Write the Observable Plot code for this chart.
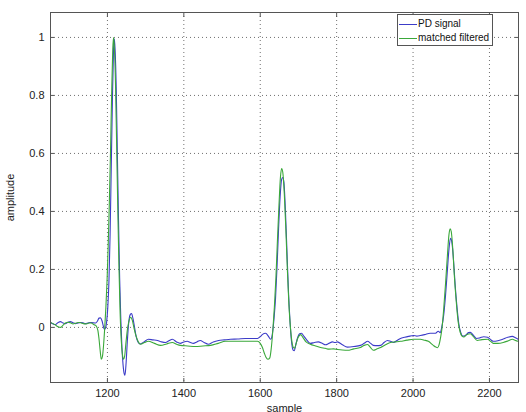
<!DOCTYPE html>
<html><head><meta charset="utf-8">
<script src="https://cdn.jsdelivr.net/npm/d3@7"></script>
<script src="https://cdn.jsdelivr.net/npm/@observablehq/plot@0.6"></script>
<style>
body{margin:0;background:#fff;}
#wrap{position:relative;width:526px;height:412px;font-family:"Liberation Sans",Arial,sans-serif;}
#legend{position:absolute;left:397px;top:14px;width:96px;height:32px;border:1px solid #555;background:#fff;font-size:10px;box-sizing:border-box;color:#111;}
#legend .row{position:absolute;left:1px;height:14px;line-height:14px;white-space:nowrap;}
#legend .sw{display:inline-block;width:18px;height:0;border-top:1px solid;vertical-align:middle;margin-right:1px;}
</style>
</head><body>
<div id="wrap"></div>
<script>
const xTicks = [1200, 1400, 1600, 1800, 2000, 2200];
const yTicks = [0, 0.2, 0.4, 0.6, 0.8, 1];
const seriesNames = ["PD signal", "matched filtered"];
const seriesColors = ["#3c3cc8", "#3aa83a"];

const sampleBlue = [1051,1058,1064,1071,1077,1084,1090,1097,1103,1110,1116,1123,1129,1136,1142,1149,1155,1162,1169,1174,1178,1182,1186,1189,1192,1195,1198,1201,1204,1207,1210,1213,1216,1218,1220,1223,1226,1229,1232,1235,1238,1241,1244,1246,1249,1252,1256,1260,1263,1267,1271,1275,1280,1286,1296,1307,1319,1331,1342,1352,1361,1370,1381,1391,1400,1409,1417,1425,1434,1443,1453,1464,1477,1491,1506,1522,1541,1561,1577,1593,1600,1606,1614,1622,1627,1630,1633,1636,1640,1644,1648,1652,1656,1659,1662,1666,1670,1674,1678,1682,1686,1689,1693,1698,1703,1708,1714,1721,1731,1742,1752,1762,1771,1780,1789,1796,1802,1815,1828,1845,1862,1872,1881,1889,1896,1906,1915,1924,1933,1941,1949,1958,1967,1978,1988,2001,2010,2019,2030,2045,2059,2066,2071,2075,2080,2085,2090,2094,2098,2102,2106,2110,2115,2120,2125,2130,2137,2145,2150,2157,2166,2175,2185,2195,2203,2210,2222,2236,2248,2260,2268,2275];
const ampBlue = [0.017,0.012,0.010,0.017,0.020,0.015,0.013,0.018,0.020,0.016,0.013,0.015,0.017,0.016,0.013,0.015,0.017,0.016,0.015,0.022,0.032,0.033,0.022,0.006,-0.007,-0.002,0.02,0.07,0.16,0.32,0.55,0.78,0.96,0.995,0.96,0.83,0.60,0.37,0.17,0.03,-0.07,-0.13,-0.16,-0.165,-0.12,-0.05,0.02,0.045,0.048,0.03,0.0,-0.03,-0.05,-0.057,-0.05,-0.041,-0.043,-0.045,-0.05,-0.052,-0.046,-0.041,-0.05,-0.055,-0.05,-0.048,-0.052,-0.055,-0.05,-0.045,-0.052,-0.058,-0.05,-0.045,-0.043,-0.041,-0.040,-0.038,-0.038,-0.038,-0.032,-0.024,-0.02,-0.032,-0.041,-0.035,-0.01,0.03,0.1,0.21,0.34,0.45,0.51,0.517,0.5,0.40,0.26,0.12,0.02,-0.05,-0.078,-0.08,-0.06,-0.035,-0.022,-0.02,-0.03,-0.042,-0.055,-0.052,-0.05,-0.055,-0.06,-0.055,-0.05,-0.052,-0.05,-0.06,-0.068,-0.066,-0.062,-0.055,-0.048,-0.055,-0.062,-0.063,-0.062,-0.052,-0.045,-0.048,-0.052,-0.045,-0.038,-0.034,-0.031,-0.028,-0.03,-0.028,-0.025,-0.02,-0.02,-0.013,-0.018,0.0,0.04,0.11,0.2,0.27,0.307,0.29,0.23,0.15,0.07,0.01,-0.018,-0.03,-0.028,-0.018,-0.017,-0.026,-0.038,-0.036,-0.032,-0.034,-0.042,-0.048,-0.046,-0.04,-0.034,-0.031,-0.036,-0.041];

const sampleGreen = [1051,1058,1064,1071,1077,1084,1090,1097,1103,1110,1116,1123,1130,1137,1145,1152,1158,1164,1170,1175,1178,1181,1184,1187,1190,1193,1196,1199,1202,1205,1208,1211,1214,1216,1218,1221,1224,1227,1230,1233,1236,1239,1242,1245,1248,1252,1256,1261,1265,1270,1275,1281,1287,1297,1307,1323,1339,1355,1370,1381,1391,1410,1430,1450,1470,1490,1509,1528,1548,1570,1593,1600,1606,1611,1615,1620,1625,1629,1633,1637,1641,1645,1649,1653,1656,1659,1663,1667,1671,1675,1679,1683,1687,1690,1694,1699,1706,1712,1720,1731,1745,1758,1770,1780,1792,1802,1815,1828,1845,1862,1872,1881,1889,1896,1906,1915,1928,1941,1954,1967,1984,2001,2019,2030,2040,2053,2060,2064,2068,2072,2076,2080,2085,2090,2094,2097,2100,2104,2108,2113,2118,2123,2128,2133,2140,2150,2158,2168,2180,2195,2203,2210,2222,2236,2248,2260,2268,2275];
const ampGreen = [0.017,0.013,0.008,0.002,0.0,0.008,0.015,0.018,0.016,0.012,0.014,0.017,0.016,0.013,0.012,0.015,0.015,0.01,0.006,-0.01,-0.04,-0.08,-0.11,-0.10,-0.06,0.0,0.07,0.16,0.28,0.43,0.6,0.8,0.96,1.0,0.97,0.85,0.64,0.42,0.22,0.06,-0.04,-0.09,-0.11,-0.10,-0.06,-0.01,0.02,0.035,0.025,-0.005,-0.03,-0.05,-0.058,-0.052,-0.048,-0.055,-0.062,-0.057,-0.052,-0.058,-0.062,-0.064,-0.066,-0.064,-0.062,-0.055,-0.048,-0.048,-0.048,-0.048,-0.048,-0.055,-0.07,-0.09,-0.103,-0.11,-0.105,-0.07,-0.01,0.07,0.17,0.3,0.42,0.52,0.548,0.535,0.46,0.34,0.2,0.08,0.0,-0.05,-0.07,-0.072,-0.055,-0.035,-0.025,-0.035,-0.05,-0.058,-0.064,-0.069,-0.072,-0.075,-0.074,-0.076,-0.078,-0.079,-0.074,-0.069,-0.062,-0.059,-0.07,-0.079,-0.074,-0.069,-0.06,-0.052,-0.05,-0.048,-0.044,-0.041,-0.041,-0.044,-0.048,-0.062,-0.068,-0.07,-0.06,-0.035,0.0,0.06,0.15,0.25,0.32,0.34,0.33,0.27,0.18,0.09,0.02,-0.015,-0.03,-0.033,-0.025,-0.022,-0.032,-0.045,-0.042,-0.041,-0.048,-0.055,-0.055,-0.052,-0.047,-0.041,-0.045,-0.048];

const blue = sampleBlue.map((s, i) => ({sample: s, amp: ampBlue[i]}));
const green = sampleGreen.map((s, i) => ({sample: s, amp: ampGreen[i]}));

const grid = {stroke: "#707070", strokeOpacity: 1, strokeWidth: 1, strokeDasharray: "1,3"};

const chart = Plot.plot({
  width: 526, height: 412,
  marginLeft: 50, marginRight: 8, marginTop: 12, marginBottom: 30,
  style: {fontFamily: "Liberation Sans, Arial, sans-serif", fontSize: "11px", color: "#222", background: "#fff"},
  x: {domain: [1051, 2276]},
  y: {domain: [-0.19, 1.086]},
  marks: [
    Plot.gridX(xTicks, grid),
    Plot.gridY(yTicks, grid),
    Plot.line(blue, {x: "sample", y: "amp", stroke: seriesColors[0], strokeWidth: 1.1, curve: "monotone-x", clip: true}),
    Plot.line(green, {x: "sample", y: "amp", stroke: seriesColors[1], strokeWidth: 1.1, curve: "monotone-x", clip: true}),
    Plot.frame({stroke: "#555"}),
    Plot.axisX(xTicks, {anchor: "bottom", tickSize: -4, tickPadding: 11, stroke: "#555", tickFormat: d => String(d), label: "sample", labelAnchor: "center", labelArrow: "none", labelOffset: 29}),
    Plot.axisX(xTicks, {anchor: "top", tickSize: -4, stroke: "#555", tickFormat: () => "", label: null}),
    Plot.axisY(yTicks, {anchor: "left", tickSize: -4, tickPadding: 10, stroke: "#555", tickFormat: d => String(d), label: "amplitude", labelAnchor: "center", labelArrow: "none", labelOffset: 44}),
    Plot.axisY(yTicks, {anchor: "right", tickSize: -4, stroke: "#555", tickFormat: () => "", label: null})
  ]
});

const wrap = document.getElementById("wrap");
wrap.appendChild(chart);
const legend = document.createElement("div");
legend.id = "legend";
seriesNames.forEach((name, i) => {
  const row = document.createElement("div");
  row.className = "row";
  row.style.top = (2 + i * 14) + "px";
  const sw = document.createElement("span");
  sw.className = "sw";
  sw.style.borderColor = seriesColors[i];
  row.appendChild(sw);
  row.appendChild(document.createTextNode(name));
  legend.appendChild(row);
});
wrap.appendChild(legend);
</script>
</body></html>
